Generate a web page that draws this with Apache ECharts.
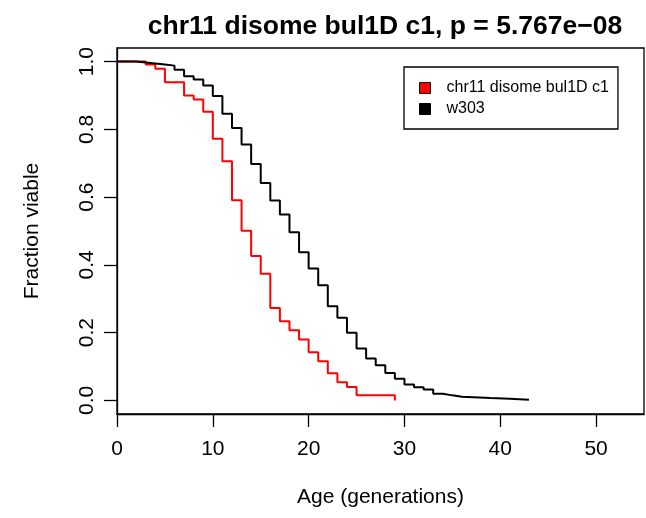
<!DOCTYPE html>
<html>
<head>
<meta charset="utf-8">
<script src="https://cdn.jsdelivr.net/npm/echarts@6/dist/echarts.min.js"></script>
<style>
  html, body { margin: 0; padding: 0; background: #fff; }
  #chart { width: 646px; height: 518px; }
</style>
</head>
<body>
<div id="chart"></div>
<script>
// chr11 disome bul1D c1 survival (step values start at each age)
const disomeAges = [0, 3, 4, 5, 7, 8, 9, 10, 11, 12, 13, 14, 15, 16, 17, 18, 19, 20, 21, 22, 23, 24, 25, 29];
const disomeViable = [1.0, 0.991, 0.979, 0.939, 0.900, 0.888, 0.852, 0.772, 0.706, 0.591, 0.501, 0.426, 0.374, 0.273, 0.234, 0.207, 0.180, 0.142, 0.116, 0.080, 0.054, 0.040, 0.015, 0.0];

// w303 survival
const w303Ages = [0, 2, 3, 4, 5, 6, 7, 8, 9, 10, 11, 12, 13, 14, 15, 16, 17, 18, 19, 20, 21, 22, 23, 24, 25, 26, 27, 28, 29, 30, 31, 32, 33, 34, 35, 36, 39, 41, 43];
const w303Viable = [1.0, 0.997, 0.994, 0.991, 0.988, 0.976, 0.957, 0.947, 0.929, 0.898, 0.846, 0.804, 0.755, 0.698, 0.642, 0.590, 0.549, 0.496, 0.437, 0.389, 0.340, 0.278, 0.244, 0.200, 0.153, 0.124, 0.104, 0.081, 0.064, 0.047, 0.039, 0.032, 0.020, 0.015, 0.011, 0.007, 0.005, 0.002, 0.002];

const xTicks = [0, 10, 20, 30, 40, 50];
const yTicks = [0, 0.2, 0.4, 0.6, 0.8, 1.0];

const pairs = (xs, ys) => xs.map((x, i) => [x, ys[i]]);

const chart = echarts.init(document.getElementById('chart'));
const font = 'Liberation Sans, Arial, sans-serif';

const option = {
  backgroundColor: '#fff',
  animation: false,
  title: {
    text: 'chr11 disome bul1D c1, p = 5.767e\u221208',
    left: 380, top: 8, textAlign: 'center',
    textStyle: { fontFamily: font, fontSize: 26.5, fontWeight: 'bold', color: '#000' }
  },
  grid: { left: 117, right: 2, top: 48, bottom: 104, show: true, borderColor: '#000', borderWidth: 1.3 },
  legend: {
    orient: 'vertical', left: 404, top: 67,
    icon: 'rect', itemWidth: 11, itemHeight: 11, itemGap: 5,
    padding: [13, 9, 12, 15],
    borderColor: '#000', borderWidth: 1.3, backgroundColor: '#fff',
    itemStyle: { borderColor: '#000', borderWidth: 1 },
    textStyle: { fontFamily: font, fontSize: 16, color: '#000', padding: [0, 0, 0, 11] },
    data: ['chr11 disome bul1D c1', 'w303']
  },
  xAxis: {
    type: 'value', min: 0, max: 55,
    name: 'Age (generations)', nameLocation: 'middle', nameGap: 73,
    nameTextStyle: { fontFamily: font, fontSize: 21, color: '#000' },
    axisLine: { show: true, onZero: false, lineStyle: { color: '#000', width: 1.3 } },
    axisTick: { show: true, inside: false, length: 13, lineStyle: { color: '#000', width: 1.3 }, customValues: xTicks },
    axisLabel: { fontFamily: font, fontSize: 21, color: '#000', margin: 25, customValues: xTicks },
    splitLine: { show: false }
  },
  yAxis: {
    type: 'value', min: -0.04, max: 1.04,
    name: 'Fraction viable', nameLocation: 'middle', nameGap: 74, nameRotate: 90,
    nameTextStyle: { fontFamily: font, fontSize: 21, color: '#000' },
    axisLine: { show: true, onZero: false, lineStyle: { color: '#000', width: 1.3 } },
    axisTick: { show: true, inside: false, length: 13, lineStyle: { color: '#000', width: 1.3 }, customValues: yTicks },
    axisLabel: {
      fontFamily: font, fontSize: 21, color: '#000', margin: 19, rotate: 90,
      customValues: yTicks, formatter: v => v.toFixed(1)
    },
    splitLine: { show: false }
  },
  series: [
    {
      name: 'chr11 disome bul1D c1', type: 'line', step: 'end',
      data: pairs(disomeAges, disomeViable),
      showSymbol: false, itemStyle: { color: '#ff0000' },
      lineStyle: { color: '#ff0000', width: 2 }
    },
    {
      name: 'w303', type: 'line', step: 'end',
      data: pairs(w303Ages, w303Viable),
      showSymbol: false, itemStyle: { color: '#000000' },
      lineStyle: { color: '#000000', width: 2 }
    }
  ]
};

chart.setOption(option);
</script>
</body>
</html>
